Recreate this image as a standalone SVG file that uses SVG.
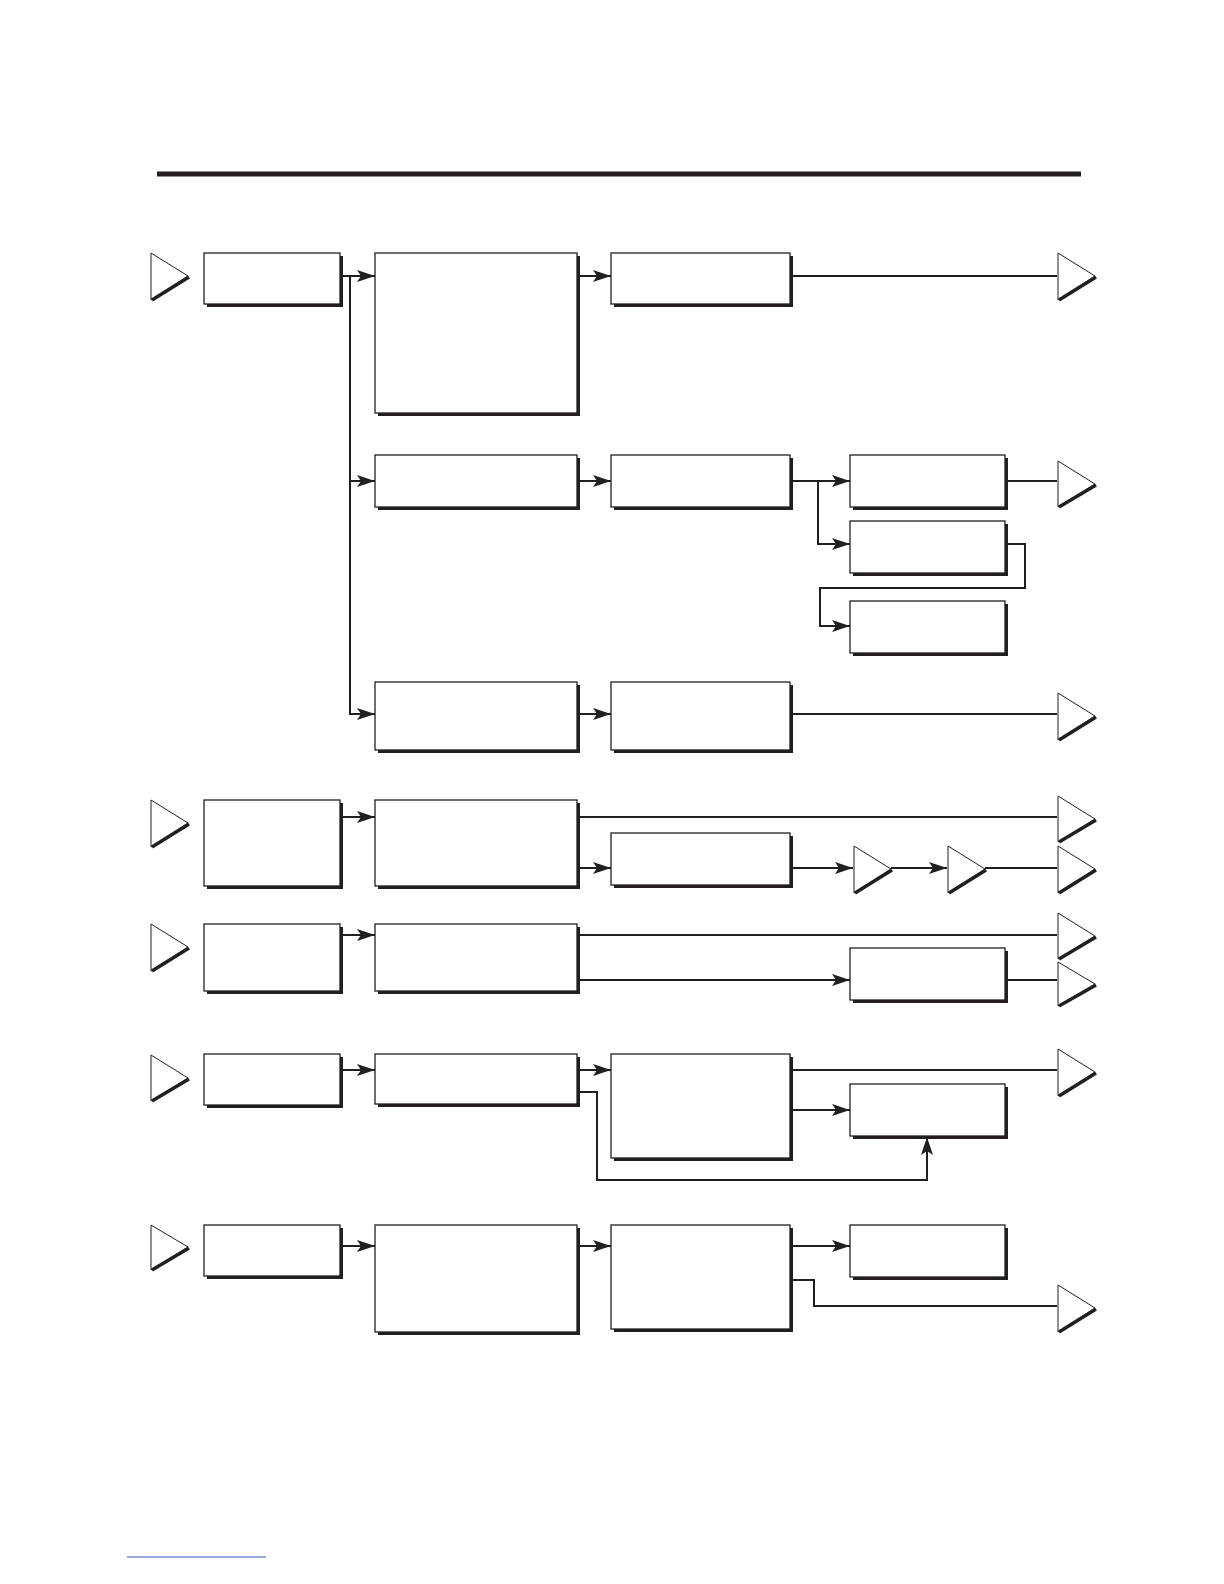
<svg xmlns="http://www.w3.org/2000/svg" width="1224" height="1584" viewBox="0 0 1224 1584">
<style>
.b{fill:#fff;stroke:#231f20;stroke-width:1.3}
.s{fill:#231f20}
.c{fill:none;stroke:#231f20;stroke-width:2}
.ti{fill:#fff;stroke:#231f20;stroke-width:1}
.te{fill:none;stroke:#231f20;stroke-width:3.5}
</style>
<defs>
<marker id="a" markerWidth="10" markerHeight="8" refX="10" refY="4" orient="auto" markerUnits="userSpaceOnUse" viewBox="0 0 10 8"><path d="M0,0 L10,4 L0,8 Z" fill="#231f20"/></marker>
<marker id="A" markerWidth="18" markerHeight="12" refX="18" refY="6" orient="auto" markerUnits="userSpaceOnUse" viewBox="0 0 18 12"><path d="M0,0 L18,6 L0,12 L4,6 Z" fill="#231f20"/></marker>
<g id="box"><rect x="3" y="3" width="1" height="1" class="s"/></g>
</defs>
<rect width="1224" height="1584" fill="#fff"/>
<line x1="157" y1="174" x2="1081" y2="174" stroke="#231f20" stroke-width="5"/>
<line x1="127" y1="1557" x2="266" y2="1557" stroke="#3050c0" stroke-width="1"/>

<g id="connectors">
<path class="c" d="M340,276 H375" marker-end="url(#A)"/>
<path class="c" d="M350,276 V714 H375" marker-end="url(#A)"/>
<path class="c" d="M350,481 H375" marker-end="url(#A)"/>
<path class="c" d="M577,276 H611" marker-end="url(#A)"/>
<path class="c" d="M790,276 H1057"/>
<path class="c" d="M577,481 H611" marker-end="url(#A)"/>
<path class="c" d="M790,481 H850" marker-end="url(#A)"/>
<path class="c" d="M1005,481 H1057"/>
<path class="c" d="M818,481 V544 H850" marker-end="url(#A)"/>
<path class="c" d="M1005,544 H1025 V588 H820 V626 H850" marker-end="url(#A)"/>
<path class="c" d="M577,714 H611" marker-end="url(#A)"/>
<path class="c" d="M790,714 H1057"/>
<path class="c" d="M340,817 H375" marker-end="url(#A)"/>
<path class="c" d="M577,817 H1057"/>
<path class="c" d="M577,868 H611" marker-end="url(#A)"/>
<path class="c" d="M790,868 H853" marker-end="url(#A)"/>
<path class="c" d="M891,868 H947" marker-end="url(#A)"/>
<path class="c" d="M985,868 H1057"/>
<path class="c" d="M340,935 H375" marker-end="url(#A)"/>
<path class="c" d="M577,935 H1057"/>
<path class="c" d="M577,980 H850" marker-end="url(#A)"/>
<path class="c" d="M1005,980 H1057"/>
<path class="c" d="M340,1070 H375" marker-end="url(#A)"/>
<path class="c" d="M577,1070 H611" marker-end="url(#A)"/>
<path class="c" d="M577,1092 H597 V1180 H927 V1137" marker-end="url(#A)"/>
<path class="c" d="M790,1070 H1057"/>
<path class="c" d="M790,1110 H850" marker-end="url(#A)"/>
<path class="c" d="M340,1246 H375" marker-end="url(#A)"/>
<path class="c" d="M577,1246 H611" marker-end="url(#A)"/>
<path class="c" d="M790,1246 H850" marker-end="url(#A)"/>
<path class="c" d="M790,1280 H814 V1306 H1057"/>
</g>

<g id="nodes">
<!-- boxes: shadow rect then box rect -->
<g id="b1"><rect class="s" x="207" y="256" width="136" height="51"/><rect class="b" x="204" y="253" width="136" height="51"/></g>
<g id="b2"><rect class="s" x="378" y="256" width="202" height="160"/><rect class="b" x="375" y="253" width="202" height="160"/></g>
<g id="b3"><rect class="s" x="614" y="256" width="179" height="51"/><rect class="b" x="611" y="253" width="179" height="51"/></g>
<g id="b4"><rect class="s" x="378" y="458" width="202" height="52"/><rect class="b" x="375" y="455" width="202" height="52"/></g>
<g id="b5"><rect class="s" x="614" y="458" width="179" height="52"/><rect class="b" x="611" y="455" width="179" height="52"/></g>
<g id="b6"><rect class="s" x="853" y="458" width="155" height="52"/><rect class="b" x="850" y="455" width="155" height="52"/></g>
<g id="b7"><rect class="s" x="853" y="524" width="155" height="52"/><rect class="b" x="850" y="521" width="155" height="52"/></g>
<g id="b8"><rect class="s" x="853" y="604" width="155" height="52"/><rect class="b" x="850" y="601" width="155" height="52"/></g>
<g id="b9"><rect class="s" x="378" y="685" width="202" height="68"/><rect class="b" x="375" y="682" width="202" height="68"/></g>
<g id="b10"><rect class="s" x="614" y="685" width="179" height="68"/><rect class="b" x="611" y="682" width="179" height="68"/></g>
<g id="b11"><rect class="s" x="207" y="803" width="136" height="86"/><rect class="b" x="204" y="800" width="136" height="86"/></g>
<g id="b12"><rect class="s" x="378" y="803" width="202" height="86"/><rect class="b" x="375" y="800" width="202" height="86"/></g>
<g id="b13"><rect class="s" x="614" y="836" width="179" height="52"/><rect class="b" x="611" y="833" width="179" height="52"/></g>
<g id="b14"><rect class="s" x="207" y="927" width="136" height="67"/><rect class="b" x="204" y="924" width="136" height="67"/></g>
<g id="b15"><rect class="s" x="378" y="927" width="202" height="67"/><rect class="b" x="375" y="924" width="202" height="67"/></g>
<g id="b16"><rect class="s" x="853" y="951" width="155" height="52"/><rect class="b" x="850" y="948" width="155" height="52"/></g>
<g id="b17"><rect class="s" x="207" y="1057" width="136" height="51"/><rect class="b" x="204" y="1054" width="136" height="51"/></g>
<g id="b18"><rect class="s" x="378" y="1057" width="202" height="50"/><rect class="b" x="375" y="1054" width="202" height="50"/></g>
<g id="b19"><rect class="s" x="614" y="1057" width="179" height="104"/><rect class="b" x="611" y="1054" width="179" height="104"/></g>
<g id="b20"><rect class="s" x="853" y="1087" width="155" height="52"/><rect class="b" x="850" y="1084" width="155" height="52"/></g>
<g id="b21"><rect class="s" x="207" y="1228" width="136" height="51"/><rect class="b" x="204" y="1225" width="136" height="51"/></g>
<g id="b22"><rect class="s" x="378" y="1228" width="202" height="107"/><rect class="b" x="375" y="1225" width="202" height="107"/></g>
<g id="b23"><rect class="s" x="614" y="1228" width="179" height="104"/><rect class="b" x="611" y="1225" width="179" height="104"/></g>
<g id="b24"><rect class="s" x="853" y="1228" width="155" height="52"/><rect class="b" x="850" y="1225" width="155" height="52"/></g>

<!-- triangles -->
<g id="t1"><path class="ti" d="M151,253 L188,276 L151,300 Z"/><path class="te" d="M152,300 L189,277"/></g>
<g id="t2"><path class="ti" d="M1058,253 L1095,276 L1058,300 Z"/><path class="te" d="M1059,300 L1096,277"/></g>
<g id="t3"><path class="ti" d="M1058,461 L1095,484 L1058,507 Z"/><path class="te" d="M1059,507 L1096,485"/></g>
<g id="t4"><path class="ti" d="M1058,693 L1095,716 L1058,740 Z"/><path class="te" d="M1059,740 L1096,717"/></g>
<g id="t5"><path class="ti" d="M151,800 L188,823 L151,847 Z"/><path class="te" d="M152,847 L189,824"/></g>
<g id="t6"><path class="ti" d="M1058,796 L1095,819 L1058,842 Z"/><path class="te" d="M1059,842 L1096,820"/></g>
<g id="t7"><path class="ti" d="M854,846 L891,869 L854,893 Z"/><path class="te" d="M855,893 L892,870"/></g>
<g id="t8"><path class="ti" d="M948,846 L985,869 L948,893 Z"/><path class="te" d="M949,893 L986,870"/></g>
<g id="t9"><path class="ti" d="M1058,846 L1095,869 L1058,893 Z"/><path class="te" d="M1059,893 L1096,870"/></g>
<g id="t10"><path class="ti" d="M151,924 L188,947 L151,971 Z"/><path class="te" d="M152,971 L189,948"/></g>
<g id="t11"><path class="ti" d="M1058,913 L1095,936 L1058,959 Z"/><path class="te" d="M1059,959 L1096,937"/></g>
<g id="t12"><path class="ti" d="M1058,962 L1095,984 L1058,1006 Z"/><path class="te" d="M1059,1006 L1096,985"/></g>
<g id="t13"><path class="ti" d="M151,1055 L188,1078 L151,1101 Z"/><path class="te" d="M152,1101 L189,1079"/></g>
<g id="t14"><path class="ti" d="M1058,1049 L1095,1072 L1058,1096 Z"/><path class="te" d="M1059,1096 L1096,1073"/></g>
<g id="t15"><path class="ti" d="M151,1225 L188,1247 L151,1270 Z"/><path class="te" d="M152,1270 L189,1248"/></g>
<g id="t16"><path class="ti" d="M1058,1285 L1095,1308 L1058,1332 Z"/><path class="te" d="M1059,1332 L1096,1309"/></g>
</g>
</svg>
